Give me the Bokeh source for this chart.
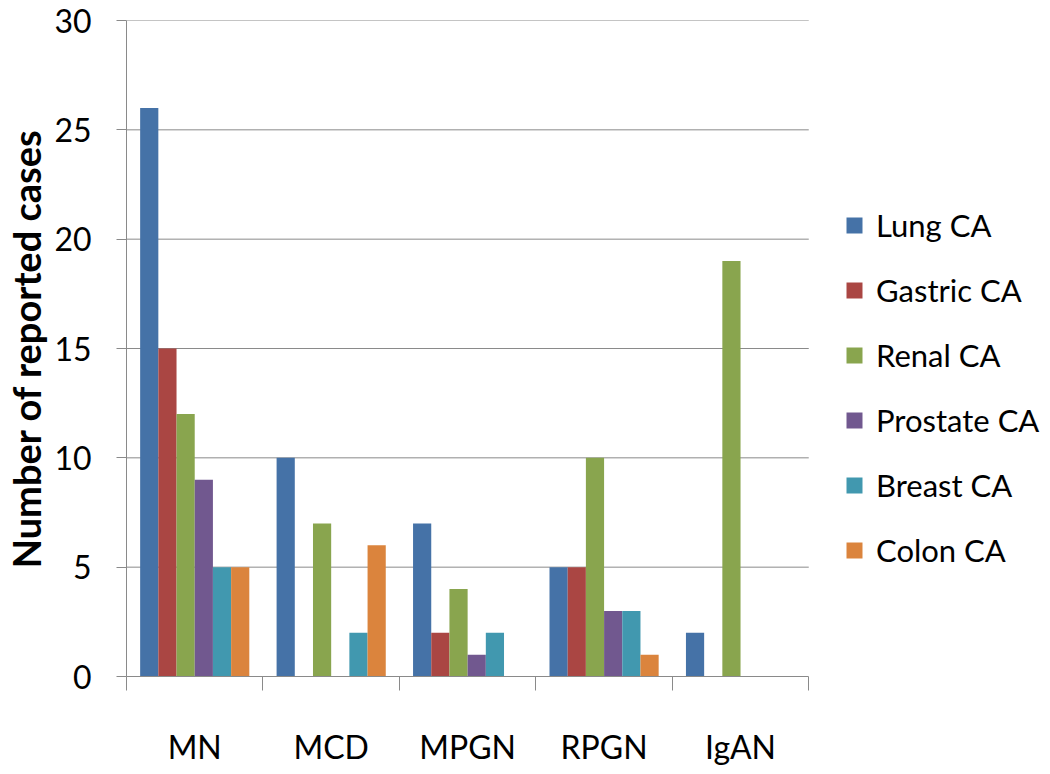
from bokeh.plotting import figure
from bokeh.models import Range1d, FixedTicker, Legend, LegendItem, ColumnDataSource
from bokeh.transform import dodge
from bokeh.embed import file_html
from bokeh.resources import INLINE

categories = ["MN", "MCD", "MPGN", "RPGN", "IgAN"]
series = ["Lung CA", "Gastric CA", "Renal CA", "Prostate CA", "Breast CA", "Colon CA"]
lung = [26, 10, 7, 5, 2]
gastric = [15, 0, 2, 5, 0]
renal = [12, 7, 4, 10, 19]
prostate = [9, 0, 1, 3, 0]
breast = [5, 2, 2, 3, 0]
colon = [5, 6, 0, 1, 0]
colors = ["#4572A7", "#AA4643", "#89A54E", "#71588F", "#4198AF", "#DB843D"]
y_ticks = [0, 5, 10, 15, 20, 25, 30]

FONT = "Lato"
GRAY = "#8a8a8a"

W, H = 1050, 774
LEFT, TOP, BOTTOM = 125, 20, 98
CAT_PX = 683 / len(categories)          # pixel width of one category band
frame_w = W - LEFT
x_end = -0.5 + frame_w / CAT_PX         # extra room on the right holds the legend

values = [lung, gastric, renal, prostate, breast, colon]
src = ColumnDataSource(dict(x=list(range(len(categories))),
                            **{f"s{j}": v for j, v in enumerate(values)}))

p = figure(width=W, height=H, output_backend="svg", toolbar_location=None,
           x_range=Range1d(-0.5, x_end), y_range=Range1d(0, 30),
           min_border_left=LEFT, min_border_right=0, min_border_top=TOP,
           min_border_bottom=BOTTOM)
p.outline_line_color = None
p.background_fill_color = "white"

# horizontal grid lines limited to the category area
grid_src = ColumnDataSource(dict(y=y_ticks[1:], x0=[-0.5] * (len(y_ticks) - 1),
                                 x1=[len(categories) - 0.5] * (len(y_ticks) - 1)))
p.segment(x0="x0", x1="x1", y0="y", y1="y", source=grid_src,
          line_color=GRAY, line_width=1)
p.xgrid.visible = False
p.ygrid.visible = False

w = 1.0 / 7.5
renderers = []
for j, name in enumerate(series):
    r = p.vbar(x=dodge("x", (j - 2.5) * w), top=f"s{j}", width=w, source=src,
               fill_color=colors[j], line_color=None)
    renderers.append(r)

# x axis
p.xaxis.bounds = (-0.5, len(categories) - 0.5)
p.xaxis.ticker = FixedTicker(ticks=list(range(len(categories))),
                             minor_ticks=[i - 0.5 for i in range(len(categories) + 1)])
p.xaxis.major_label_overrides = {i: c for i, c in enumerate(categories)}
p.xaxis.major_tick_out = 0
p.xaxis.major_tick_in = 0
p.xaxis.minor_tick_out = 14
p.xaxis.minor_tick_in = 0
p.xaxis.minor_tick_line_color = GRAY
p.xaxis.axis_line_color = GRAY
p.xaxis.major_label_text_font = FONT
p.xaxis.major_label_text_font_size = "32px"
p.xaxis.major_label_text_color = "black"
p.xaxis.major_label_standoff = 36

# y axis
p.yaxis.ticker = FixedTicker(ticks=y_ticks, minor_ticks=[])
p.yaxis.major_tick_out = 10
p.yaxis.major_tick_in = 0
p.yaxis.major_tick_line_color = GRAY
p.yaxis.axis_line_color = GRAY
p.yaxis.minor_tick_line_color = None
p.yaxis.major_label_text_font = FONT
p.yaxis.major_label_text_font_size = "32px"
p.yaxis.major_label_text_color = "black"
p.yaxis.major_label_standoff = 25
p.yaxis.axis_label = "Number of reported cases"
p.yaxis.axis_label_text_font = FONT
p.yaxis.axis_label_text_font_style = "bold"
p.yaxis.axis_label_text_font_size = "38px"
p.yaxis.axis_label_text_color = "black"
p.yaxis.axis_label_standoff = 2

legend = Legend(items=[LegendItem(label=s, renderers=[r]) for s, r in zip(series, renderers)],
                location=(718, 107), orientation="vertical",
                glyph_width=20, glyph_height=20, label_standoff=12,
                label_text_font=FONT, label_text_font_size="31px",
                label_text_color="black", spacing=27, padding=0, margin=0,
                border_line_color=None, background_fill_alpha=0)
p.add_layout(legend)

open("out.html", "w").write(file_html(p, INLINE))
